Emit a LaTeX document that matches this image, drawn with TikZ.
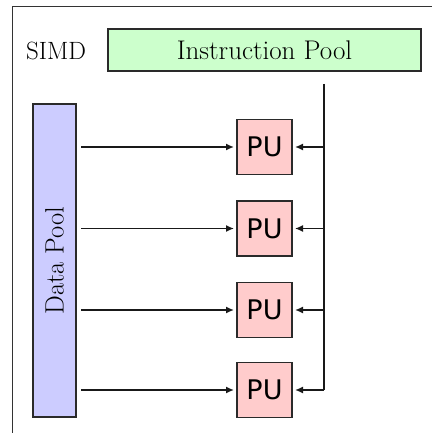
\documentclass[tikz,border=0pt]{standalone}
\usepackage{fontspec}
\newfontfamily\pufont{DejaVu Sans}
\usetikzlibrary{arrows.meta}
\definecolor{ipgreen}{HTML}{CCFFCC}
\definecolor{dpblue}{HTML}{CCCCFF}
\definecolor{pured}{HTML}{FFCCCC}
\definecolor{edge}{HTML}{2A2A2A}
\tikzset{
  box/.style={draw=edge, line width=1.6pt, inner sep=0pt, outer sep=0pt},
  pubox/.style={box, fill=pured, minimum width=55pt, minimum height=55pt, font=\pufont\fontsize{27}{30}\selectfont},
  wire/.style={line width=1.5pt, draw=black!90},
  arr/.style={wire, -{Latex[length=8pt,width=7pt]}},
}
\begin{document}
\begin{tikzpicture}[x=1pt,y=-1pt]
\useasboundingbox (0,0) rectangle (432,433);
\draw[line width=1pt, draw=black!80] (12,433) -- (12,7) -- (432,7);
\node (simd) at (56,50.5) {\fontsize{25}{28}\selectfont SIMD};
\node[box, fill=ipgreen, minimum width=313pt, minimum height=42pt, font=\fontsize{27}{30}\selectfont] (ip) at (264.5,50) {Instruction Pool};
\node[box, fill=dpblue, minimum width=313pt, minimum height=43pt, rotate=90, font=\fontsize{26.5}{30}\selectfont] (dp) at (54.5,260.5) {Data Pool};
\node[pubox] (pu1) at (264.5,147) {PU};
\node[pubox] (pu2) at (264.5,228.5) {PU};
\node[pubox] (pu3) at (264.5,310) {PU};
\node[pubox] (pu4) at (264.5,390) {PU};
\coordinate (vtop) at (324,84);
\coordinate (vbot) at (324,390);
\draw[wire] (vtop) -- (vbot);
\foreach \p in {pu1,pu2,pu3,pu4}{
  \draw[arr, shorten >=3pt] (vbot |- \p) -- (\p.east);
  \draw[arr, shorten >=3pt] ([xshift=5pt]dp.south |- \p) -- (\p.west);
}
\end{tikzpicture}
\end{document}
